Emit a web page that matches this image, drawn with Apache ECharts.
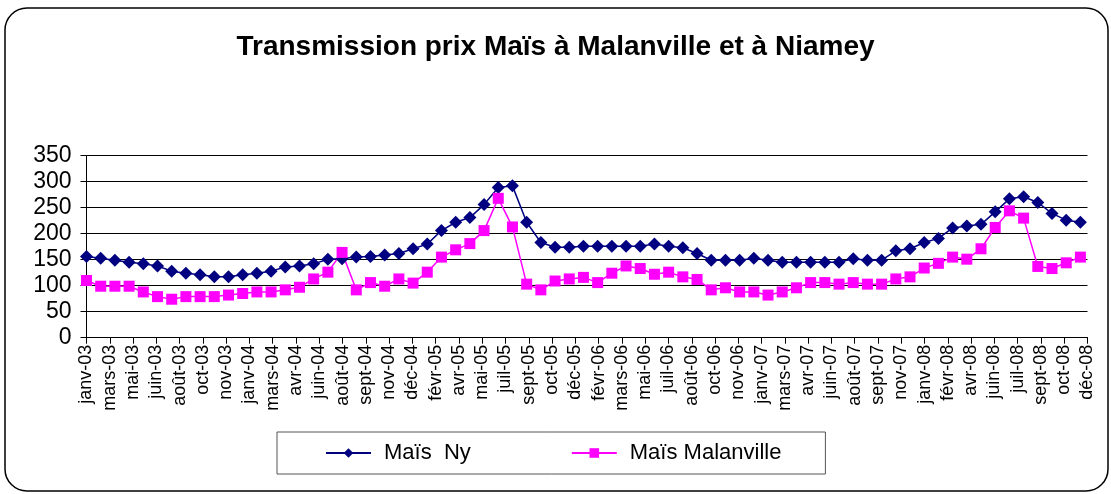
<!DOCTYPE html>
<html lang="fr">
<head>
    <meta charset="UTF-8">
    <title>Transmission prix Maïs</title>
    <script src="https://cdn.jsdelivr.net/npm/echarts@6/dist/echarts.min.js"></script>
    <style>
        html, body { margin: 0; padding: 0; background: #fff; }
        #chart { width: 1111px; height: 494px; }
    </style>
</head>
<body>
<div id="chart"></div>
<script>
    // mois des observations (janv-03 .. nov-08)
    var mois = [];
    var noms = ['janv','févr','mars','avr','mai','juin','juil','août','sept','oct','nov','déc'];
    for (var a = 3; a <= 8; a++) {
        for (var m = 0; m < 12; m++) {
            if (mois.length < 71) mois.push(noms[m] + '-0' + a);
        }
    }

    // étiquettes de l'axe des x (telles qu'affichées)
    var etiquettes = ['janv-03','mars-03','mai-03','juin-03','août-03','oct-03','nov-03',
        'janv-04','mars-04','avr-04','juin-04','août-04','sept-04','nov-04','déc-04',
        'févr-05','avr-05','mai-05','juil-05','sept-05','oct-05','déc-05',
        'févr-06','mars-06','mai-06','juil-06','août-06','oct-06','nov-06',
        'janv-07','mars-07','avr-07','juin-07','août-07','sept-07','nov-07',
        'janv-08','févr-08','avr-08','juin-08','juil-08','sept-08','oct-08','déc-08'];

    var maisNy = [156,153,149,145,142,138,128,124,121,117,117,121,124,128,136,138,142,151,
        152,155,156,159,162,171,180,206,222,231,256,289,292,222,183,174,174,176,
        176,176,176,176,180,176,173,162,149,149,149,153,149,145,145,145,145,145,
        152,149,149,167,171,183,191,211,215,218,242,267,271,260,239,226,222];

    var maisMalanville = [110,99,99,99,88,79,74,79,79,79,82,85,88,88,92,97,113,126,
        164,92,106,99,113,105,126,155,169,181,206,268,213,103,92,109,113,116,
        106,124,138,133,122,126,117,112,92,96,88,88,82,88,96,106,106,103,
        106,103,103,113,117,134,143,155,151,171,212,244,230,137,133,144,155];

    var police = 'Liberation Sans, Arial, sans-serif';

    var chart = echarts.init(document.getElementById('chart'));
    var option = {
        backgroundColor: '#fff',
        animation: false,
        textStyle: { fontFamily: police },
        graphic: [{
            type: 'rect',
            shape: { x: 5, y: 8, width: 1103, height: 483, r: 22 },
            style: { fill: 'none', stroke: '#000', lineWidth: 1.5 },
            silent: true
        }],
        title: {
            text: 'Transmission prix Maïs à Malanville et à Niamey',
            left: 'center',
            top: 28,
            textStyle: { fontFamily: police, fontWeight: 'bold', fontSize: 28, color: '#000' }
        },
        legend: {
            left: 277,
            top: 432,
            padding: [10, 44, 10, 48],
            itemGap: 100,
            itemWidth: 45,
            itemHeight: 12,
            borderColor: '#555',
            borderWidth: 1,
            textStyle: { fontFamily: police, fontSize: 22, color: '#000', padding: [0, 0, 0, 8] },
            data: ['Maïs  Ny', 'Maïs Malanville']
        },
        grid: { left: 86.5, right: 23.5, top: 155.7, bottom: 156.3 },
        xAxis: [{
            type: 'value',
            min: 0,
            max: 70.5,
            show: false
        }, {
            type: 'category',
            data: etiquettes,
            boundaryGap: false,
            position: 'bottom',
            axisLine: { lineStyle: { color: '#000', width: 1 } },
            axisTick: { show: true, length: 6, interval: 0, lineStyle: { color: '#000' } },
            axisLabel: { interval: 0, rotate: 90, margin: 7, fontSize: 18, color: '#000', fontFamily: police },
            splitLine: { show: false }
        }],
        yAxis: {
            type: 'value',
            min: 0,
            max: 350,
            interval: 50,
            axisLine: { show: true, lineStyle: { color: '#000' } },
            axisTick: { show: true, length: 6, lineStyle: { color: '#000' } },
            axisLabel: { fontSize: 23, color: '#000', margin: 15, fontFamily: police },
            splitLine: { lineStyle: { color: '#000', width: 1 } }
        },
        series: [{
            name: 'Maïs  Ny',
            type: 'line',
            xAxisIndex: 0,
            data: mois.map(function (mm, i) { return [i, maisNy[i]]; }),
            symbol: 'diamond',
            symbolSize: 13,
            itemStyle: { color: '#000080' },
            lineStyle: { color: '#000080', width: 1.5 }
        }, {
            name: 'Maïs Malanville',
            type: 'line',
            xAxisIndex: 0,
            data: mois.map(function (mm, i) { return [i, maisMalanville[i]]; }),
            symbol: 'rect',
            symbolSize: 11,
            itemStyle: { color: '#ff00ff' },
            lineStyle: { color: '#ff00ff', width: 1.5 }
        }]
    };
    chart.setOption(option);
</script>
</body>
</html>
